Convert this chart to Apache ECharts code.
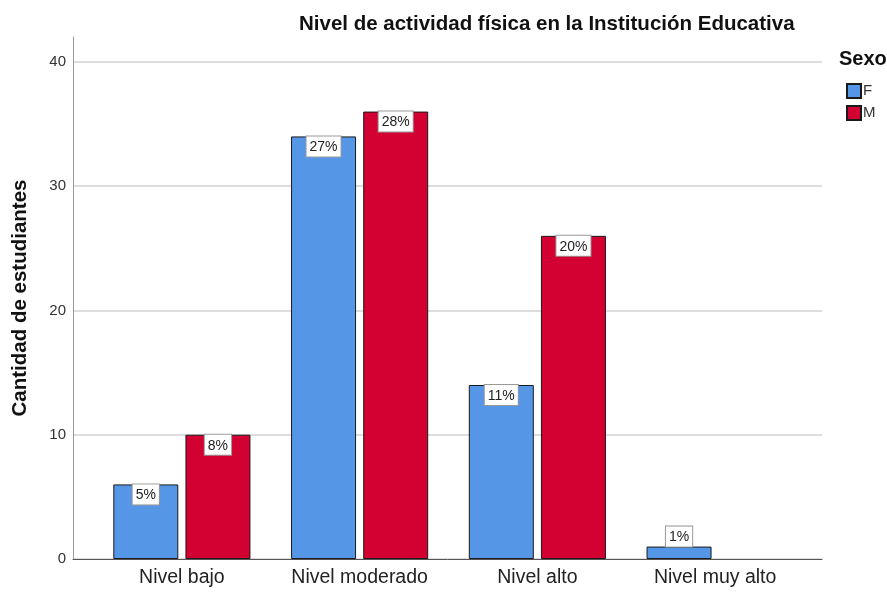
<!DOCTYPE html>
<html>
    <head>
        <meta charset="UTF-8" />
        <title>Nivel de actividad física</title>
        <style>
            html,
            body {
                margin: 0;
                padding: 0;
                background: #fff;
            }
            #chart {
                width: 887px;
                height: 592px;
            }
        </style>
    </head>
    <body>
        <div id="chart"></div>
        <script src="https://cdn.jsdelivr.net/npm/echarts@6/dist/echarts.min.js"></script>
        <script>
            const categories = ["Nivel bajo", "Nivel moderado", "Nivel alto", "Nivel muy alto"];
            const femenino = [6, 34, 14, 1];
            const masculino = [10, 36, 26, 0];
            const pctF = ["5%", "27%", "11%", "1%"];
            const pctM = ["8%", "28%", "20%", ""];
            const yTicks = [0, 10, 20, 30, 40];

            const font = "Liberation Sans, Arial, sans-serif";
            const chart = echarts.init(document.getElementById("chart"));

            const labelBox = {
                show: true,
                position: "insideTop",
                distance: 0,
                color: "#222",
                fontSize: 14,
                fontFamily: font,
                backgroundColor: "#fff",
                borderColor: "#999",
                borderWidth: 1,
                padding: [4, 3, 2, 3],
            };

            // small bars get the label on top, empty bars get nothing
            function makeData(values, labels) {
                return values.map((v, i) => {
                    const item = { value: v };
                    if (!labels[i]) {
                        item.label = { show: false };
                        item.itemStyle = { borderWidth: 0 };
                    } else if (v < 2) {
                        item.label = { position: "top", distance: 0 };
                    }
                    return item;
                });
            }

            chart.setOption({
                animation: false,
                backgroundColor: "#fff",
                title: [
                    {
                        text: "Nivel de actividad física en la Institución Educativa",
                        left: 294,
                        top: 9,
                        textStyle: { fontFamily: font, fontSize: 20.5, fontWeight: "bold", color: "#111" },
                    },
                    {
                        text: "Sexo",
                        left: 834,
                        top: 44,
                        textStyle: { fontFamily: font, fontSize: 20, fontWeight: "bold", color: "#111" },
                    },
                ],
                legend: {
                    orient: "vertical",
                    left: 841,
                    top: 78,
                    itemWidth: 14,
                    itemHeight: 14,
                    itemGap: 6,
                    icon: "rect",
                    textStyle: { fontFamily: font, fontSize: 15, color: "#333", padding: [0, 0, 0, -3] },
                    data: ["F", "M"],
                },
                grid: [
                    { left: 73, right: 65, top: 37, bottom: 33 },
                    { left: 93, right: 83, top: 37, bottom: 33 },
                ],
                xAxis: [
                    {
                        gridIndex: 0,
                        type: "value",
                        min: 0,
                        max: 1,
                        axisLine: { show: true, onZero: false, lineStyle: { color: "#555", width: 1 } },
                        axisTick: { show: false },
                        axisLabel: { show: false },
                        splitLine: { show: false },
                    },
                    {
                        gridIndex: 1,
                        type: "category",
                        data: categories,
                        axisLine: { show: false },
                        axisTick: { show: false },
                        axisLabel: { fontFamily: font, fontSize: 19.5, color: "#222", margin: 9 },
                    },
                ],
                yAxis: [
                    {
                        gridIndex: 0,
                        type: "value",
                        min: 0,
                        max: 42,
                        interval: 10,
                        name: "Cantidad de estudiantes",
                        nameLocation: "middle",
                        nameGap: 42,
                        nameTextStyle: { fontFamily: font, fontSize: 20.5, fontWeight: "bold", color: "#111" },
                        axisLine: { show: true, lineStyle: { color: "#999", width: 1 } },
                        axisTick: { show: false },
                        axisLabel: {
                            fontFamily: font,
                            fontSize: 15,
                            color: "#333",
                            margin: 7,
                            formatter: (v) => (yTicks.includes(v) ? String(v) : ""),
                        },
                        splitLine: { showMaxLine: false, lineStyle: { color: "#d2d2d2", width: 1.5 } },
                    },
                    {
                        gridIndex: 1,
                        type: "value",
                        min: 0,
                        max: 42,
                        show: false,
                        splitLine: { show: false },
                    },
                ],
                series: [
                    {
                        name: "F",
                        type: "bar",
                        xAxisIndex: 1,
                        yAxisIndex: 1,
                        data: makeData(femenino, pctF),
                        barWidth: 65,
                        barGap: "11%",
                        itemStyle: { color: "#5596e6", borderColor: "#1a1a1a", borderWidth: 1 },
                        label: Object.assign({}, labelBox, { formatter: (p) => pctF[p.dataIndex] }),
                    },
                    {
                        name: "M",
                        type: "bar",
                        xAxisIndex: 1,
                        yAxisIndex: 1,
                        data: makeData(masculino, pctM),
                        barWidth: 65,
                        itemStyle: { color: "#d30032", borderColor: "#1a1a1a", borderWidth: 1 },
                        label: Object.assign({}, labelBox, { formatter: (p) => pctM[p.dataIndex] }),
                    },
                ],
            });
        </script>
    </body>
</html>
